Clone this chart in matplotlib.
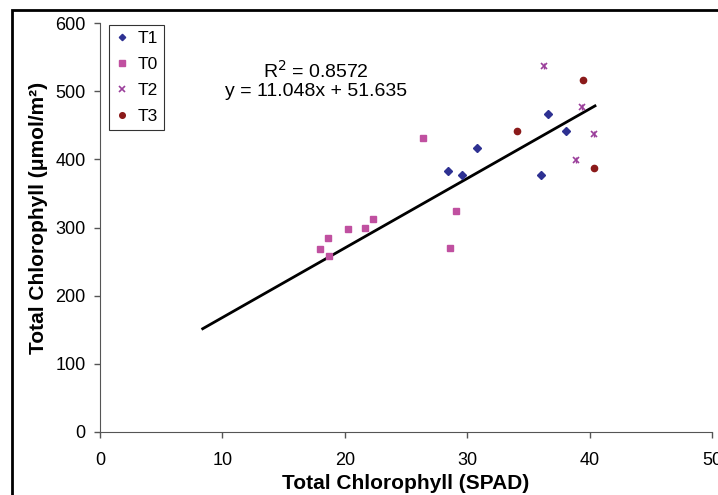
import matplotlib.pyplot as plt
from matplotlib.patches import Rectangle

plt.rcParams['font.family'] = ['Liberation Sans', 'DejaVu Sans']

# SPAD reading vs total chlorophyll, per treatment
t1_x = [28.4, 29.6, 30.8, 36.05, 36.6, 38.07]
t1_y = [383, 377, 417, 377, 466, 442]

t0_x = [29.06, 22.28, 20.29, 21.67, 18.6, 18.0, 18.68, 28.57, 26.39]
t0_y = [324.5, 312, 298, 299.6, 284.5, 268.8, 258.5, 270, 432]

t2_x = [36.27, 39.38, 40.38, 38.86]
t2_y = [537, 477, 437, 399]

t3_x = [39.46, 34.07, 40.36]
t3_y = [517, 442, 387]

# trend line as drawn in the original
trend_x = [8.39, 40.44]
trend_y = [151.5, 478.4]

fig = plt.figure(figsize=(7.18, 4.95), dpi=100)
ax = fig.add_axes([100/718, 63/495, 612/718, 409/495])

ax.plot(trend_x, trend_y, color='black', lw=2, zorder=1)
ax.plot(t1_x, t1_y, ls='none', marker='D', ms=3.6, color='#2e3192', label='T1')
ax.plot(t0_x, t0_y, ls='none', marker='s', ms=4.5, color='#c050a0', label='T0')
ax.plot(t2_x, t2_y, ls='none', marker='x', ms=4.5, mew=1.2, color='#9b3f9b', label='T2')
ax.plot(t2_x, t2_y, ls='none', marker='|', ms=4.5, mew=1.0, color='#9b3f9b')
ax.plot(t3_x, t3_y, ls='none', marker='o', ms=4.5, color='#8b1a1a', label='T3')

ax.text(17.65, 517, 'R$^2$ = 0.8572\ny = 11.048x + 51.635', ha='center', va='center',
        fontsize=14, linespacing=1.1)

ax.set_xlim(0, 50)
ax.set_ylim(0, 600)
ax.set_xticks(range(0, 51, 10))
ax.set_yticks(range(0, 601, 100))
ax.tick_params(labelsize=13, direction='out', length=4.5, color='#555555', width=1)
ax.tick_params(axis='x', pad=10)
ax.tick_params(axis='y', pad=6)
for s in ['top', 'right']:
    ax.spines[s].set_visible(False)
for s in ['left', 'bottom']:
    ax.spines[s].set_color('#555555')

ax.set_xlabel('Total Chlorophyll (SPAD)', fontsize=15, fontweight='bold', va='center')
ax.set_ylabel('Total Chlorophyll (μmol/m²)', fontsize=15, fontweight='bold', va='center')
ax.xaxis.set_label_coords(0.5, -0.125)
ax.yaxis.set_label_coords(-0.101, 0.523)

leg = ax.legend(loc='upper left', bbox_to_anchor=(0.0147, 0.995), fontsize=12.5,
                frameon=True, fancybox=False, edgecolor='black', handlelength=0.8,
                handletextpad=0.5, borderpad=0.35, borderaxespad=0, labelspacing=0.62,
                markerscale=0.9)
leg.get_frame().set_linewidth(0.8)

fig.patches.append(Rectangle((12/718, -0.1), 1.1, (485/495) + 0.1, fill=False,
                             lw=2, edgecolor='black', transform=fig.transFigure))

fig.savefig('out.png', dpi=100)
